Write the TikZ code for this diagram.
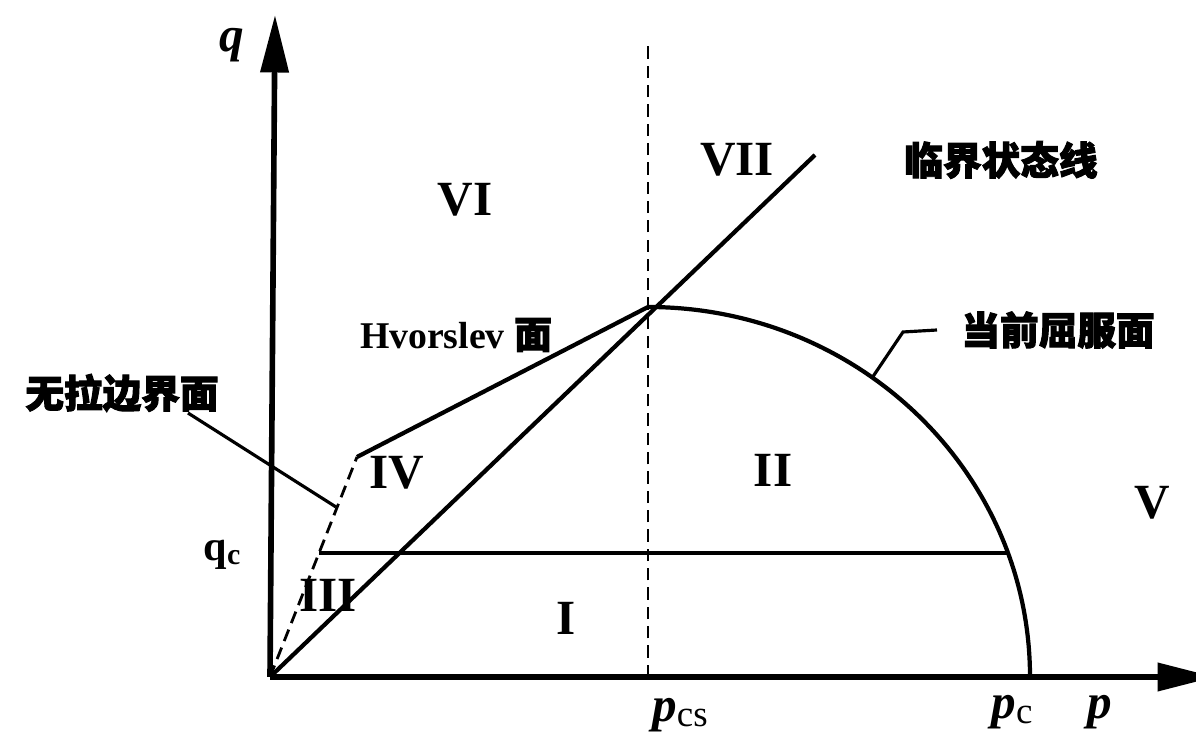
\documentclass[tikz,border=0pt]{standalone}
\usepackage{fontspec}
\setmainfont{Liberation Serif}
\newfontfamily\cjk[FakeBold=2.5]{Noto Sans CJK SC}
\usetikzlibrary{arrows.meta}

\begin{document}
\begin{tikzpicture}[x=0.02cm, y=0.02cm, line width=2.4pt,
  ax/.style={line width=3.2pt, -{Triangle[length=1.15cm, width=0.55cm]}},
  dsh/.style={line width=1.6pt, dash pattern=on 7pt off 4pt},
  rn/.style={font=\fontsize{28}{30}\selectfont\bfseries},
  sym/.style={font=\fontsize{28}{30}\selectfont\bfseries\itshape},
  zh/.style={font=\fontsize{22}{24}\selectfont\bfseries\cjk}]
  \useasboundingbox (-270,-66) rectangle (926,677);
  % key points
  \coordinate (O) at (0,0);
  \coordinate (qtip) at (5,662);
  \coordinate (ptip) at (945,0);
  \coordinate (cslend) at (545,522);
  \coordinate (hvA) at (87,220);
  \coordinate (peak) at (378,370);
  \coordinate (pcs) at (378,0);
  \coordinate (pcstop) at (378,637);
  \coordinate (pc) at (760,0);
  \coordinate (qcL) at (49,124);
  \coordinate (qcR) at (738,124);
  \coordinate (ntA) at (-82,264);
  \coordinate (ntB) at (66,170);
  \coordinate (ysA) at (602,299);
  \coordinate (ysB) at (633,345);
  \coordinate (ysC) at (667,347);
  % axes
  \draw[ax] (O) -- (qtip);
  \draw[ax] (O) -- (ptip);
  % lines
  \draw[dsh] (pcs) -- (pcstop);
  \draw (O) -- (cslend);
  \draw (hvA) -- (peak);
  \draw[dsh] (O) -- (hvA);
  \draw (peak) arc[start angle=90, end angle=0, x radius=382, y radius=370];
  \draw (qcL) -- (qcR);
  \draw[line width=1.8pt] (ntA) -- (ntB);
  \draw[line width=1.8pt] (ysA) -- (ysB) -- (ysC);
  % labels
  \node[sym] (q) at (-38,632) {q};
  \node[font=\fontsize{24}{26}\selectfont\bfseries] (qc) at (-48,122) {q\raisebox{-2pt}{\fontsize{17}{17}\selectfont c}};
  \node[sym] (pcslbl) at (410,-38) {p\raisebox{-3pt}{\fontsize{21}{21}\selectfont\upshape\mdseries cs}};
  \node[sym] (pclbl) at (742,-35) {p\raisebox{-3pt}{\fontsize{21}{21}\selectfont\upshape\mdseries c}};
  \node[sym] (p) at (830,-35) {p};
  \node[rn] (r6) at (195,477) {VI};
  \node[rn] (r7) at (467,517) {VII};
  \node[rn] (r4) at (127,204) {IV};
  \node[rn] (r2) at (503,207) {II};
  \node[rn] (r5) at (882,174) {V};
  \node[rn] (r3) at (58,82) {III};
  \node[rn] (r1) at (296,59) {I};
  \node[zh] (csl) at (731,517) {临界状态线};
  \node[font=\fontsize{21.5}{23}\selectfont\bfseries] (hv) at (186,342) {Hvorslev {\cjk 面}};
  \node[zh] (ys) at (788,347) {当前屈服面};
  \node[zh] (nt) at (-148,284) {无拉边界面};
\end{tikzpicture}
\end{document}
